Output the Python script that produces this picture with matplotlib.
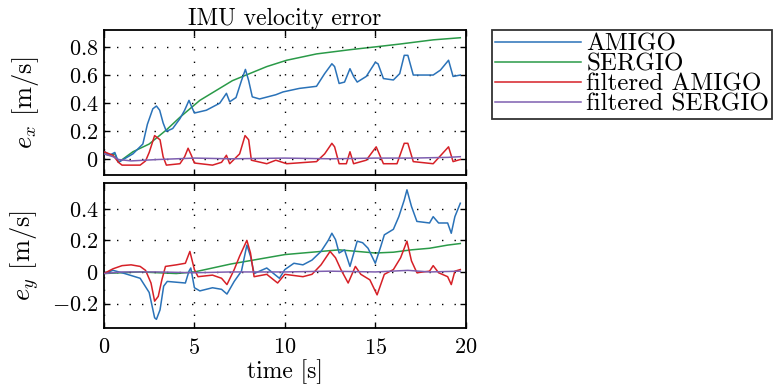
import numpy as np
import matplotlib
matplotlib.use("Agg")
import matplotlib.pyplot as plt
from matplotlib.ticker import FuncFormatter

plt.rcParams["font.family"] = "cmr10"
plt.rcParams["mathtext.fontset"] = "cm"
plt.rcParams["axes.formatter.use_mathtext"] = True

#%% values
# top panel (e_x)
tx_amigo = [0, 0.3, 0.6, 0.8, 1.2, 1.6, 2.15, 2.4, 2.7, 2.9, 3.08, 3.27, 3.45, 3.8, 4.2, 4.46, 4.7,
            4.83, 5.0, 5.66, 6.4, 6.77, 6.95, 7.3, 7.6, 7.82, 8.0, 8.2, 8.6, 9.5, 9.9, 10.8, 11.75,
            12.2, 12.6, 12.75, 13.0, 13.3, 13.6, 13.8, 14.0, 14.5, 15.0, 15.15, 15.45, 16.0, 16.35,
            16.6, 16.8, 17.1, 18.2, 18.6, 19.05, 19.3, 19.7]
ex_amigo = [0.06, 0.03, 0.05, -0.02, 0.01, 0.04, 0.11, 0.25, 0.36, 0.38, 0.35, 0.26, 0.20, 0.22,
            0.29, 0.35, 0.42, 0.38, 0.33, 0.35, 0.40, 0.47, 0.41, 0.44, 0.56, 0.64, 0.56, 0.445,
            0.43, 0.46, 0.48, 0.505, 0.52, 0.61, 0.68, 0.66, 0.54, 0.55, 0.645, 0.59, 0.55, 0.59,
            0.69, 0.68, 0.575, 0.565, 0.61, 0.74, 0.74, 0.60, 0.60, 0.635, 0.705, 0.59, 0.60]

tx_sergio = [0, 0.3, 0.6, 0.8, 1.6, 2.5, 3.45, 4.2, 5.3, 7.1, 9.0, 10.1, 11.75, 13.6, 15.0, 16.35,
             18.2, 19.7]
ex_sergio = [0.04, 0.03, 0.04, -0.02, 0.055, 0.11, 0.21, 0.30, 0.42, 0.56, 0.66, 0.705, 0.75,
             0.78, 0.80, 0.82, 0.85, 0.865]

tx_famigo = [0, 0.5, 0.8, 1.0, 2.0, 2.3, 2.5, 2.8, 3.1, 3.27, 3.45, 4.2, 4.46, 4.65, 4.83, 5.0,
             6.0, 6.5, 6.77, 6.95, 7.5, 7.8, 8.0, 8.15, 9.0, 9.5, 10.1, 11.75, 12.2, 12.6, 12.75,
             13.0, 13.4, 13.6, 13.8, 14.5, 15.05, 15.45, 16.2, 16.6, 16.8, 17.1, 18.2, 19.05,
             19.3, 19.7]
ex_famigo = [0.055, 0.03, -0.02, -0.04, -0.04, -0.01, 0.05, 0.17, 0.14, 0.02, -0.04, -0.03, 0.02,
             0.08, 0.03, -0.025, -0.04, -0.02, 0.03, -0.03, 0.04, 0.17, 0.14, -0.005, -0.03,
             -0.005, -0.03, -0.015, 0.04, 0.115, 0.09, -0.03, -0.03, 0.055, -0.03, -0.005, 0.09,
             -0.03, -0.03, 0.115, 0.115, -0.015, -0.03, 0.09, -0.015, 0.0]

tx_fsergio = [0, 0.5, 0.8, 1.5, 3.0, 5.0, 7.0, 10.0, 12.5, 15.0, 17.0, 19.0, 19.7]
ex_fsergio = [0.04, 0.02, 0.0, -0.01, 0.0, 0.01, 0.005, 0.01, 0.005, 0.01, 0.01, 0.015, 0.02]

# bottom panel (e_y)
ty_amigo = [0, 0.5, 1.0, 2.0, 2.5, 2.8, 2.9, 3.1, 3.3, 3.5, 4.5, 4.7, 4.8, 5.0, 5.3, 6.0, 6.5, 6.8,
            7.2, 7.6, 7.9, 8.1, 8.3, 9.0, 9.7, 10.0, 10.5, 11.0, 11.5, 12.0, 12.4, 12.6, 12.8,
            13.0, 13.3, 13.6, 14.0, 14.3, 14.6, 15.0, 15.3, 15.5, 16.0, 16.3, 16.6, 16.75, 17.0,
            17.3, 18.0, 18.2, 18.5, 19.0, 19.2, 19.4, 19.7]
ey_amigo = [-0.01, 0.01, -0.005, -0.04, -0.13, -0.29, -0.30, -0.24, -0.09, -0.06, -0.07, 0.005,
            0.025, -0.10, -0.12, -0.10, -0.11, -0.14, -0.06, 0.005, 0.17, 0.10, -0.01, 0.025,
            -0.04, 0.015, 0.055, 0.045, 0.075, 0.13, 0.20, 0.245, 0.205, 0.12, 0.14, 0.035,
            0.195, 0.185, 0.15, 0.055, 0.16, 0.235, 0.27, 0.35, 0.455, 0.52, 0.415, 0.32, 0.31,
            0.35, 0.31, 0.31, 0.245, 0.35, 0.435]

ty_sergio = [0, 2.0, 4.0, 5.0, 7.0, 10.0, 12.0, 13.0, 14.0, 15.0, 16.0, 17.0, 18.0, 19.0, 19.7]
ey_sergio = [-0.01, 0.0, -0.01, 0.0, 0.05, 0.11, 0.13, 0.14, 0.13, 0.12, 0.125, 0.14, 0.15,
             0.17, 0.18]

ty_famigo = [0, 0.5, 1.0, 1.5, 2.0, 2.3, 2.6, 2.8, 3.0, 3.2, 3.4, 4.0, 4.5, 4.75, 5.0, 5.2, 6.0,
             6.5, 6.8, 7.2, 7.5, 7.9, 8.1, 8.3, 9.0, 9.6, 10.0, 11.0, 11.5, 12.0, 12.5, 12.8,
             13.1, 13.5, 13.9, 14.2, 14.7, 15.1, 15.5, 16.0, 16.4, 16.75, 17.0, 17.3, 18.0,
             18.2, 18.5, 19.0, 19.2, 19.4, 19.7]
ey_famigo = [-0.01, 0.02, 0.04, 0.045, 0.035, 0.01, -0.07, -0.185, -0.155, -0.05, 0.035, 0.045,
             0.055, 0.13, 0.015, -0.03, -0.02, -0.04, -0.08, 0.015, 0.10, 0.20, 0.12, -0.03,
             -0.015, -0.07, -0.015, -0.03, -0.015, 0.045, 0.13, 0.09, 0.015, -0.07, 0.035,
             -0.015, -0.05, -0.145, -0.015, 0.015, 0.09, 0.195, 0.07, -0.005, 0.005, 0.04,
             -0.005, -0.03, -0.08, 0.005, 0.015]

ty_fsergio = [0, 1.0, 3.0, 5.0, 7.0, 10.0, 12.5, 15.0, 16.8, 18.0, 19.7]
ey_fsergio = [-0.01, 0.0, 0.0, -0.005, 0.0, 0.0, 0.005, 0.0, 0.01, 0.0, 0.005]

labels = ["AMIGO", "SERGIO", "filtered AMIGO", "filtered SERGIO"]
colors = ["#2a72b8", "#2a9a48", "#d62027", "#7e5fb0"]

#%%
fig = plt.figure(figsize=(7.73, 3.85), dpi=100)
ax1 = fig.add_axes([0.1345, 0.5455, 0.468, 0.3766])
ax2 = fig.add_axes([0.1345, 0.148, 0.468, 0.3766])

top = [(tx_amigo, ex_amigo), (tx_sergio, ex_sergio), (tx_famigo, ex_famigo), (tx_fsergio, ex_fsergio)]
bot = [(ty_amigo, ey_amigo), (ty_sergio, ey_sergio), (ty_famigo, ey_famigo), (ty_fsergio, ey_fsergio)]

zorders = [2, 1, 3, 4]  # red and purple sit on top
for (t, v), c, lab, z in zip(top, colors, labels, zorders):
    ax1.plot(t, v, color=c, lw=1.1, label=lab, zorder=z)
for (t, v), c, z in zip(bot, colors, zorders):
    ax2.plot(t, v, color=c, lw=1.1, zorder=z)

fmt = FuncFormatter(lambda v, p: f"${v:g}$")
for ax in (ax1, ax2):
    ax.set_xlim(0, 20)
    ax.set_xticks([0, 5, 10, 15, 20])
    ax.grid(True, color="black", lw=1.0, linestyle=(0, (1, 8)))
    ax.tick_params(direction="in", top=True, right=True, labelsize=16, length=4, width=1)
    ax.tick_params(axis="y", pad=4)
    ax.yaxis.set_major_formatter(fmt)
    for s in ax.spines.values():
        s.set_linewidth(1.3)

ax1.set_ylim(-0.11, 0.92)
ax1.set_yticks([0, 0.2, 0.4, 0.6, 0.8])
ax1.tick_params(labelbottom=False)
ax1.set_title("IMU velocity error", fontsize=17, pad=2)
ax1.set_ylabel(r"$e_x$ [m/s]", fontsize=19)
ax1.yaxis.set_label_coords(-0.175, 0.5)

ax2.set_ylim(-0.355, 0.563)
ax2.set_yticks([-0.2, 0, 0.2, 0.4])
ax2.xaxis.set_major_formatter(fmt)
ax2.tick_params(axis="x", pad=7)
ax2.set_ylabel(r"$e_y$ [m/s]", fontsize=19)
ax2.yaxis.set_label_coords(-0.175, 0.5)
ax2.set_xlabel("time [s]", fontsize=17, labelpad=1)

leg = fig.legend(loc="upper left", bbox_to_anchor=(492 / 773, 1 - 30 / 385), fontsize=18,
                 frameon=True, fancybox=False, edgecolor="black", handlelength=3.45,
                 labelspacing=-0.1, borderpad=0.12, handletextpad=0.2, borderaxespad=0)
leg.get_frame().set_linewidth(1.3)

fig.savefig("out.png", dpi=100)
